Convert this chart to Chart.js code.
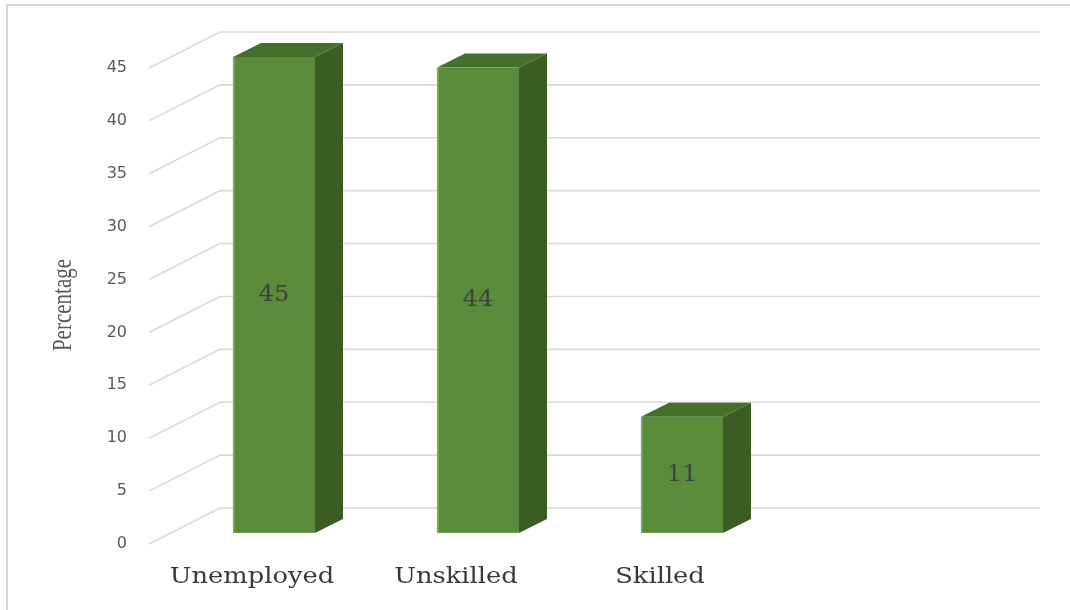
<!DOCTYPE html>
<html>
<head>
<meta charset="utf-8">
<script src="https://cdn.jsdelivr.net/npm/chart.js@4.4.1/dist/chart.umd.min.js"></script>
<style>
  html, body { margin: 0; padding: 0; background: #fff; }
  canvas { display: block; }
</style>
</head>
<body>
<canvas id="chart" width="1070" height="610"></canvas>
<script>
// percentage of respondents in each group
const groups = ['Unemployed', 'Unskilled', 'Skilled'];
const percents = [45, 44, 11];
const yTicks = [0, 5, 10, 15, 20, 25, 30, 35, 40, 45];

// colours of the box faces
const FRONT = '#5a8b3a';
const SIDE = '#3b5c23';
const TOP = '#466e2c';
const EDGE = '#7fac5c';
const GRID = '#d9d9d9';

// fake 3d: how far the box top/side and the back wall are pushed
const BOX_DX = 28, BOX_DY = -14;
const WALL_DX = 48, WALL_DY = -25;
const FLOOR_DX = -23, FLOOR_DY = 11;

// draws text stretched horizontally, the way the old office chart looks
function wideText(ctx, text, x, y, sx) {
    ctx.save();
    ctx.translate(x, y);
    ctx.scale(sx, 1);
    ctx.fillText(text, 0, 0);
    ctx.restore();
}

const box3d = {
    id: 'box3d',
    beforeDraw(chart) {
        // thin frame on the top and left side
        const ctx = chart.ctx;
        ctx.save();
        ctx.strokeStyle = '#d6d6d6';
        ctx.lineWidth = 2;
        ctx.beginPath();
        ctx.moveTo(7, chart.height);
        ctx.lineTo(7, 5);
        ctx.lineTo(chart.width, 5);
        ctx.stroke();
        ctx.restore();
    },
    beforeDatasetsDraw(chart) {
        // back wall gridlines with the slanted bit running to the front
        const ctx = chart.ctx;
        const y = chart.scales.y;
        const area = chart.chartArea;
        ctx.save();
        ctx.strokeStyle = GRID;
        ctx.lineWidth = 1.6;
        y.ticks.forEach(t => {
            const py = y.getPixelForValue(t.value);
            ctx.beginPath();
            ctx.moveTo(area.left + FLOOR_DX, py + FLOOR_DY);
            ctx.lineTo(area.left + WALL_DX, py + WALL_DY);
            ctx.lineTo(chart.width - 30, py + WALL_DY);
            ctx.stroke();
        });
        ctx.restore();
    },
    afterDatasetsDraw(chart) {
        const ctx = chart.ctx;
        const meta = chart.getDatasetMeta(0);
        const xs = chart.scales.x;
        const area = chart.chartArea;
        ctx.save();
        meta.data.forEach((bar, i) => {
            const p = bar.getProps(['x', 'y', 'base', 'width'], true);
            const l = p.x - p.width / 2;
            const r = p.x + p.width / 2;

            // top face
            ctx.fillStyle = TOP;
            ctx.beginPath();
            ctx.moveTo(l, p.y);
            ctx.lineTo(l + BOX_DX, p.y + BOX_DY);
            ctx.lineTo(r + BOX_DX, p.y + BOX_DY);
            ctx.lineTo(r, p.y);
            ctx.closePath();
            ctx.fill();

            // right side face
            ctx.fillStyle = SIDE;
            ctx.beginPath();
            ctx.moveTo(r, p.y);
            ctx.lineTo(r + BOX_DX, p.y + BOX_DY);
            ctx.lineTo(r + BOX_DX, p.base + BOX_DY);
            ctx.lineTo(r, p.base);
            ctx.closePath();
            ctx.fill();

            // value in the middle of the front face
            ctx.fillStyle = '#404040';
            ctx.font = '22px "DejaVu Serif"';
            ctx.textAlign = 'center';
            ctx.textBaseline = 'middle';
            wideText(ctx, String(percents[i]), p.x, (p.y + p.base) / 2, 1.1);
        });

        // category names under the floor
        ctx.fillStyle = '#3a3a3a';
        ctx.font = '22px "DejaVu Serif"';
        ctx.textAlign = 'center';
        ctx.textBaseline = 'middle';
        groups.forEach((g, i) => {
            wideText(ctx, g, xs.getPixelForValue(i) - 22, area.bottom + 44, 1.17);
        });

        // axis title
        ctx.fillStyle = '#595959';
        ctx.font = '21px "Liberation Serif"';
        ctx.translate(64, (area.top + area.bottom) / 2 + 10);
        ctx.scale(1.25, 1);
        ctx.rotate(-Math.PI / 2);
        ctx.fillText('Percentage', 0, 0);
        ctx.restore();
    }
};

new Chart(document.getElementById('chart'), {
    type: 'bar',
    data: {
        labels: groups,
        datasets: [{
            data: percents,
            backgroundColor: FRONT,
            borderColor: EDGE,
            borderWidth: { left: 2, bottom: 1, top: 0, right: 0 },
            borderSkipped: false,
            barThickness: 82,
            clip: false
        }]
    },
    options: {
        responsive: false,
        animation: false,
        events: [],
        layout: { padding: { top: 57, right: 286, bottom: 77, left: 0 } },
        plugins: {
            legend: { display: false },
            tooltip: { enabled: false }
        },
        scales: {
            x: { display: false },
            y: {
                min: 0,
                max: 45,
                afterBuildTicks: s => { s.ticks = yTicks.map(v => ({ value: v })); },
                afterFit: s => { s.width = 172; },
                border: { display: false },
                grid: { display: false, drawTicks: false },
                ticks: {
                    padding: 45,
                    labelOffset: 11,
                    color: '#595959',
                    font: { family: 'DejaVu Sans', size: 16 }
                }
            }
        }
    },
    plugins: [box3d]
});
</script>
</body>
</html>
